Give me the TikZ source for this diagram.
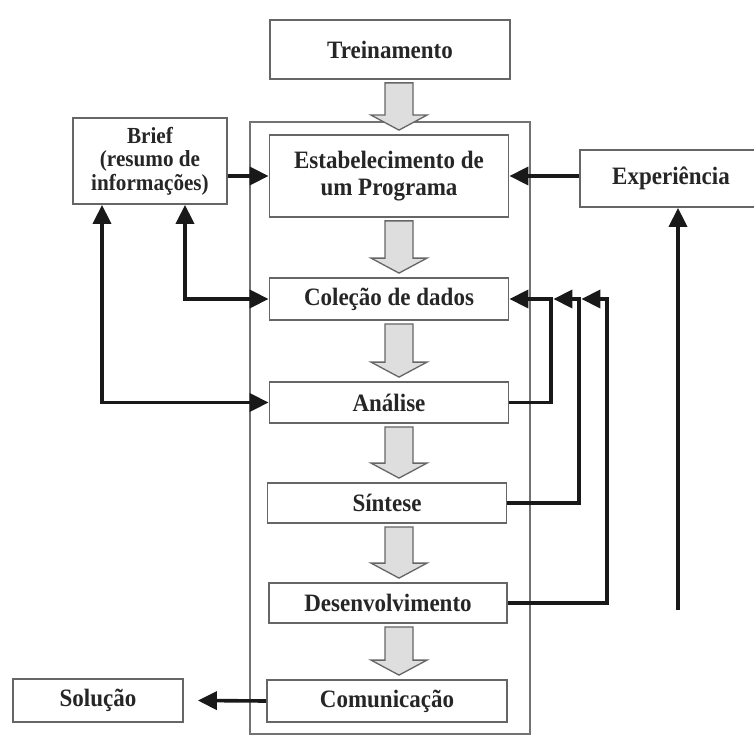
\documentclass[tikz,border=0pt]{standalone}
\usepackage{fontspec}
\setmainfont{Liberation Serif}[FakeStretch=0.92]
\usetikzlibrary{arrows.meta,calc}
\tikzset{
  stepbox/.style={draw=black!60, line width=1.8pt, fill=white, rectangle, inner sep=0pt,
    align=center, text=black!85, font=\bfseries\fontsize{25}{27}\selectfont},
  framebox/.style={draw=black!55, line width=1.4pt, rectangle, inner sep=0pt},
  conn/.style={draw=black!90, line width=3.6pt},
  tip/.tip={Triangle[length=19pt,width=18pt]},
  hollow/.style={draw=black!60, line width=1.3pt, fill=black!13, line join=miter},
}
\newcommand\hollowarr[2]{%
  \path[hollow] let \p1=(#1.south), \p2=(#2.north) in
    (385pt,\y1-3pt) -- (413pt,\y1-3pt) -- (413pt,\y2+19pt) -- (427pt,\y2+19pt)
    -- (399pt,\y2+4pt) -- (371pt,\y2+19pt) -- (385pt,\y2+19pt) -- cycle;}
\begin{document}
\begin{tikzpicture}[x=1pt,y=-1pt]
\useasboundingbox (0,0) rectangle (754,735);
\fill[white] (0,0) rectangle (754,735);
% outer frame
\node[framebox, minimum width=280pt, minimum height=612pt] (frame) at (390,428) {};
% boxes
\node[stepbox, minimum width=240pt, minimum height=59pt] (trein) at (390,49.5) {Treinamento};
\node[stepbox, minimum width=239pt, minimum height=82pt] (estab) at (389,176) {Estabelecimento de\\um Programa};
\node[stepbox, minimum width=154pt, minimum height=86pt, font=\bfseries\fontsize{23}{23.5}\selectfont] (brief) at (150,161) {Brief\\(resumo de\\informações)};
\node[stepbox, minimum width=182pt, minimum height=57pt] (exper) at (671,178.5) {Experiência};
\node[stepbox, minimum width=239pt, minimum height=42pt] (colec) at (389,299) {Coleção de dados};
\node[stepbox, minimum width=239pt, minimum height=41pt] (anal) at (389,402.5) {Análise};
\node[stepbox, minimum width=239pt, minimum height=40pt] (sint) at (387,503) {Síntese};
\node[stepbox, minimum width=238pt, minimum height=40pt] (desenv) at (388,603) {Desenvolvimento};
\node[stepbox, minimum width=240pt, minimum height=42pt] (comun) at (387,701) {Comunicação};
\node[stepbox, minimum width=170pt, minimum height=43pt] (solu) at (98,700.5) {Solução};
% hollow arrows
\hollowarr{trein}{estab}
\hollowarr{estab}{colec}
\hollowarr{colec}{anal}
\hollowarr{anal}{sint}
\hollowarr{sint}{desenv}
\hollowarr{desenv}{comun}
% connectors
\draw[conn,-tip] (estab.west -| brief.east) -- (estab.west);
\draw[conn,-tip] (exper.west |- estab.east) -- (estab.east);
\draw[conn,tip-tip] ([xshift=-48pt]brief.south) |- (anal.west);
\draw[conn,tip-tip] ([xshift=35pt]brief.south) |- (colec.west);
\draw[conn,-tip] (anal.east) -| ($(colec.east)+(41.5,0)$) -- (colec.east);
\draw[conn,-tip] (sint.east) -| ($(colec.east)+(69.5,0)$) -- ($(colec.east)+(44,0)$);
\draw[conn,-tip] (desenv.east) -| ($(colec.east)+(97.5,0)$) -- ($(colec.east)+(72,0)$);
\coordinate (expsrc) at (678,610);
\draw[conn,-tip] (expsrc) -- (expsrc |- exper.south);
\draw[conn,-tip] (comun.west) -- ([xshift=14pt]solu.east);
\end{tikzpicture}
\end{document}
